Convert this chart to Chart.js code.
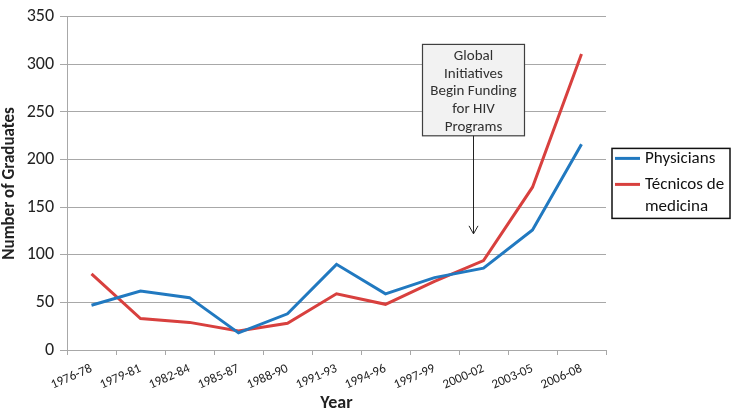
<!DOCTYPE html>
<html>
<head>
<meta charset="utf-8">
<script src="https://cdn.jsdelivr.net/npm/chart.js@4.4.1/dist/chart.umd.min.js"></script>
<style>
  html, body { margin: 0; padding: 0; background: #fff; }
  #wrap { width: 735px; height: 411px; position: relative; }
</style>
</head>
<body>
<div id="wrap"><canvas id="c" width="735" height="411"></canvas></div>
<script>
const categories = ['1976-78','1979-81','1982-84','1985-87','1988-90','1991-93','1994-96','1997-99','2000-02','2003-05','2006-08'];
const physicians = [47, 62, 55, 18, 38, 90, 59, 76, 86, 126, 216];
const tecnicos = [80, 33, 29, 20, 28, 59, 48, 72, 94, 171, 311];
const yTicks = [0, 50, 100, 150, 200, 250, 300, 350];
const seriesNames = ['Physicians', ['Técnicos de', 'medicina']];
const annotationLines = ['Global', 'Initiatives', 'Begin Funding', 'for HIV', 'Programs'];
const annotationCategory = '2000-02';

const FONT = 'Carlito, Lato, sans-serif';
const BLUE = '#2179c0';
const RED = '#d8403e';
const GRID = '#a8a8a8';

const overlay = {
  id: 'overlay',
  afterDraw(chart) {
    const ctx = chart.ctx;
    const xs = chart.scales.x, ys = chart.scales.y, ca = chart.chartArea;
    // Annotation box + arrow
    const cx = xs.getPixelForValue(categories.indexOf(annotationCategory)) - 10;
    const top = ys.getPixelForValue(321);
    const bottom = ys.getPixelForValue(225);
    const tip = ys.getPixelForValue(122);
    const w = 102;
    ctx.save();
    ctx.fillStyle = '#f2f2f2';
    ctx.strokeStyle = '#404040';
    ctx.lineWidth = 1.2;
    ctx.fillRect(cx - w / 2, top, w, bottom - top);
    ctx.strokeRect(cx - w / 2, top, w, bottom - top);
    ctx.fillStyle = '#303030';
    ctx.font = '15px ' + FONT;
    ctx.textAlign = 'center';
    ctx.textBaseline = 'middle';
    annotationLines.forEach((t, i) => ctx.fillText(t, cx, top + 12 + i * 17.6));
    ctx.strokeStyle = '#222';
    ctx.lineWidth = 1;
    ctx.beginPath();
    ctx.moveTo(cx, bottom);
    ctx.lineTo(cx, tip);
    ctx.moveTo(cx - 4.5, tip - 8);
    ctx.lineTo(cx, tip);
    ctx.lineTo(cx + 4.5, tip - 8);
    ctx.stroke();

    // Legend
    const lx = ca.right + 6, lw = 118, lh = 70;
    const ly = (ca.top + ca.bottom) / 2 - lh / 2;
    ctx.fillStyle = '#fff';
    ctx.fillRect(lx, ly, lw, lh);
    ctx.strokeStyle = '#111';
    ctx.lineWidth = 1.5;
    ctx.strokeRect(lx, ly, lw, lh);
    ctx.font = '17px ' + FONT;
    ctx.textAlign = 'left';
    ctx.fillStyle = '#111';
    const rows = [ly + 10, ly + 36];
    chart.data.datasets.forEach((ds, i) => {
      ctx.strokeStyle = ds.borderColor;
      ctx.lineWidth = 3;
      ctx.beginPath();
      ctx.moveTo(lx + 3, rows[i]);
      ctx.lineTo(lx + 28, rows[i]);
      ctx.stroke();
      const lines = Array.isArray(seriesNames[i]) ? seriesNames[i] : [seriesNames[i]];
      lines.forEach((t, j) => ctx.fillText(t, lx + 33, rows[i] + j * 22));
    });
    ctx.restore();
  }
};

new Chart(document.getElementById('c'), {
  type: 'line',
  data: {
    labels: categories,
    datasets: [
      { label: 'Physicians', data: physicians, borderColor: BLUE, backgroundColor: BLUE, borderWidth: 3, pointRadius: 0, tension: 0 },
      { label: 'Técnicos de medicina', data: tecnicos, borderColor: RED, backgroundColor: RED, borderWidth: 3, pointRadius: 0, tension: 0 }
    ]
  },
  options: {
    responsive: false,
    animation: false,
    layout: { padding: { top: 7, right: 129, left: 0, bottom: 0 } },
    plugins: { legend: { display: false }, tooltip: { enabled: false } },
    scales: {
      x: {
        type: 'category',
        offset: true,
        grid: { offset: true, drawOnChartArea: false, drawTicks: true, tickLength: 5, color: GRID },
        border: { color: GRID, width: 1 },
        ticks: { color: '#222', font: { family: FONT, size: 13 }, maxRotation: 24, minRotation: 24, padding: 6, autoSkip: false },
        title: { display: true, text: 'Year', color: '#222', font: { family: FONT, size: 18, weight: 'bold' }, padding: { top: 0, bottom: -3 } },
        afterFit(s) { s.height = 61; }
      },
      y: {
        min: 0, max: 350,
        afterBuildTicks(s) { s.ticks = yTicks.map(v => ({ value: v })); },
        grid: { color: GRID, lineWidth: 1, tickLength: 7 },
        border: { color: GRID, width: 1 },
        ticks: { color: '#222', font: { family: FONT, size: 18 }, padding: 6 },
        title: { display: true, text: 'Number of Graduates', color: '#222', font: { family: FONT, size: 17, weight: 'bold' }, padding: { top: 0, bottom: 0 } },
        afterFit(s) { s.width = 67; }
      }
    }
  },
  plugins: [overlay]
});
</script>
</body>
</html>
